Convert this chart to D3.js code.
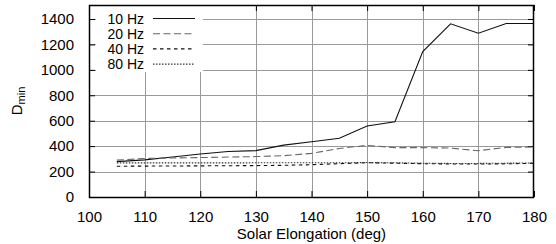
<!DOCTYPE html>
<html>
<head>
<meta charset="utf-8">
<script src="https://d3js.org/d3.v7.min.js"></script>
<style>
  body { margin: 0; background: #fff; }
  text { font-family: "Liberation Sans", Arial, sans-serif; fill: #000; }
</style>
</head>
<body>
<div id="chart"></div>
<script>
var svgWidth = 556;
var svgHeight = 244;

var margin = { top: 5, right: 22, bottom: 47, left: 89 };
var width = svgWidth - margin.left - margin.right;
var height = svgHeight - margin.top - margin.bottom;

// data
var elongation = [105, 110, 115, 120, 125, 130, 135, 140, 145, 150, 155, 160, 165, 170, 175, 180];
var hz10 = [278, 292, 315, 338, 358, 365, 408, 435, 462, 558, 592, 1143, 1362, 1288, 1364, 1364];
var hz20 = [290, 303, 307, 310, 314, 318, 325, 343, 382, 406, 388, 388, 385, 364, 390, 393];
var hz40 = [242, 243, 244, 245, 246, 247, 249, 254, 262, 270, 266, 262, 260, 259, 261, 265];
var hz80 = [268, 268, 268, 268, 268, 269, 269, 269, 269, 271, 269, 266, 264, 264, 266, 268];
var xTicks = [100, 110, 120, 130, 140, 150, 160, 170, 180];
var yTicks = [0, 200, 400, 600, 800, 1000, 1200, 1400];

var series = [
  { name: "10 Hz", values: hz10, color: "#111", dash: null },
  { name: "20 Hz", values: hz20, color: "#666", dash: "7,3.5" },
  { name: "40 Hz", values: hz40, color: "#111", dash: "3.5,3.5" },
  { name: "80 Hz", values: hz80, color: "#333", dash: "1.5,1.5" }
];

var svg = d3.select("#chart")
  .append("svg")
  .attr("width", svgWidth)
  .attr("height", svgHeight);

var chartGroup = svg.append("g")
  .attr("transform", `translate(${margin.left}, ${margin.top})`);

var xScale = d3.scaleLinear().domain([100, 180]).range([0, width]);
var yScale = d3.scaleLinear().domain([0, 1510]).range([height, 0]);

// grid lines
var grid = chartGroup.append("g")
  .attr("stroke", "#999")
  .attr("stroke-width", 1)
  .attr("shape-rendering", "crispEdges");

grid.selectAll("line.gx")
  .data(xTicks.slice(1, -1))
  .enter().append("line")
  .attr("class", "gx")
  .attr("x1", d => Math.round(xScale(d)) + 0.5)
  .attr("x2", d => Math.round(xScale(d)) + 0.5)
  .attr("y1", 0)
  .attr("y2", height);

grid.selectAll("line.gy")
  .data(yTicks.slice(1))
  .enter().append("line")
  .attr("class", "gy")
  .attr("x1", 0)
  .attr("x2", width)
  .attr("y1", d => Math.round(yScale(d)) + 0.5)
  .attr("y2", d => Math.round(yScale(d)) + 0.5);

// axes with inward ticks, mirrored
var bottomAxis = d3.axisBottom(xScale).tickValues(xTicks).tickSize(-6).tickPadding(14);
var leftAxis = d3.axisLeft(yScale).tickValues(yTicks).tickSize(-6).tickPadding(15).tickFormat(d3.format("d"));
var topAxis = d3.axisTop(xScale).tickValues(xTicks).tickSize(-6).tickFormat("");
var rightAxis = d3.axisRight(yScale).tickValues(yTicks).tickSize(-6).tickFormat("");

chartGroup.append("g")
  .attr("class", "axis")
  .attr("transform", `translate(0, ${height})`)
  .call(bottomAxis);
chartGroup.append("g").attr("class", "axis").call(leftAxis);
chartGroup.append("g").attr("class", "axis").call(topAxis);
chartGroup.append("g")
  .attr("class", "axis")
  .attr("transform", `translate(${width}, 0)`)
  .call(rightAxis);

chartGroup.selectAll(".axis .domain").remove();
chartGroup.selectAll(".axis line").attr("stroke", "#000");
chartGroup.selectAll(".axis text")
  .style("font-family", "'Liberation Sans', Arial, sans-serif")
  .style("font-size", "15px")
  .attr("fill", "#000");

// legend box (opaque, covers grid)
var legend = chartGroup.append("g");
legend.append("rect")
  .attr("x", 7)
  .attr("y", 1)
  .attr("width", 107)
  .attr("height", 66)
  .attr("fill", "#fff");

// data lines
var lineGen = d3.line()
  .x((d, i) => xScale(elongation[i]))
  .y(d => yScale(d));

series.forEach(function(s) {
  chartGroup.append("path")
    .datum(s.values)
    .attr("d", lineGen)
    .attr("fill", "none")
    .attr("stroke", s.color)
    .attr("stroke-width", 1.1)
    .attr("stroke-dasharray", s.dash);
});

series.forEach(function(s, i) {
  var ly = 13.5 + i * 15.2;
  legend.append("text")
    .attr("x", 55)
    .attr("y", ly + 5)
    .attr("text-anchor", "end")
    .style("font-size", "14px")
    .text(s.name);
  legend.append("line")
    .attr("x1", 64)
    .attr("x2", 106)
    .attr("y1", ly)
    .attr("y2", ly)
    .attr("stroke", s.color)
    .attr("stroke-width", 1.1)
    .attr("stroke-dasharray", s.dash);
});

// border
chartGroup.append("rect")
  .attr("x", 0.5)
  .attr("y", 0.5)
  .attr("width", width - 1)
  .attr("height", height)
  .attr("fill", "none")
  .attr("stroke", "#000")
  .attr("stroke-width", 1.5);

// axis labels
svg.append("text")
  .attr("x", margin.left + width / 2)
  .attr("y", 239)
  .attr("text-anchor", "middle")
  .style("font-size", "15px")
  .text("Solar Elongation (deg)");

var yLabel = svg.append("text")
  .attr("transform", `translate(22, ${margin.top + height / 2}) rotate(-90)`)
  .attr("text-anchor", "middle")
  .style("font-size", "15px");
yLabel.append("tspan").text("D");
yLabel.append("tspan").attr("dy", 3).style("font-size", "11px").text("min");
</script>
</body>
</html>
